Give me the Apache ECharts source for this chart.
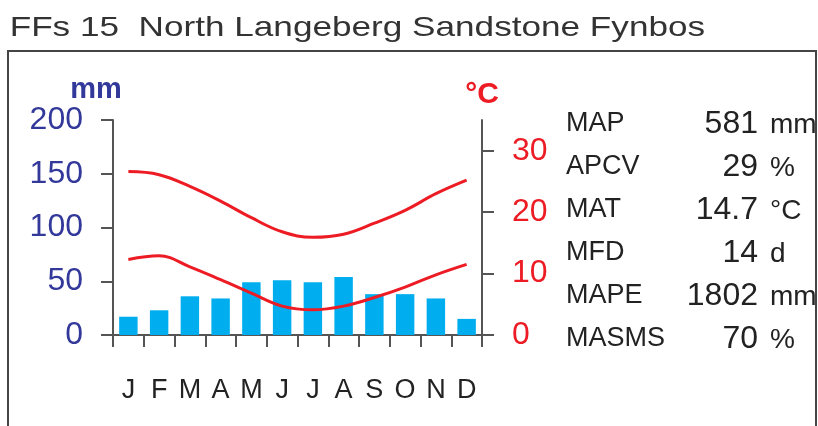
<!DOCTYPE html>
<html>
<head>
<meta charset="utf-8">
<script src="https://cdn.jsdelivr.net/npm/echarts@6/dist/echarts.min.js"></script>
<style>
  html, body { margin: 0; padding: 0; background: #fff; }
  #chart { width: 818px; height: 426px; }
</style>
</head>
<body>
<div id="chart"></div>
<script>
// climate diagram data
var months = ['J', 'F', 'M', 'A', 'M', 'J', 'J', 'A', 'S', 'O', 'N', 'D']
var rain = [17, 23, 36, 34, 49, 51, 49, 54, 38, 38, 34, 15]
var tMax = [26.6, 26.1, 24.2, 21.8, 19.1, 16.8, 15.9, 16.4, 18.2, 20.3, 23.0, 25.2]
var tMin = [12.3, 12.9, 11.1, 9.0, 6.8, 4.7, 4.1, 4.7, 6.1, 7.8, 9.8, 11.5]
var rainTicks = [0, 50, 100, 150, 200]
var tempTicks = [0, 10, 20, 30]
var statNames = ['MAP', 'APCV', 'MAT', 'MFD', 'MAPE', 'MASMS']
var statValues = ['581', '29', '14.7', '14', '1802', '70']
var statUnits = ['mm', '%', '°C', 'd', 'mm', '%']
var title = 'FFs 15  North Langeberg Sandstone Fynbos'

var blue = '#33399a'
var red = '#ed1c24'
var axisGray = '#555'
var font = 'Liberation Sans, Arial, sans-serif'
var narrow = 'Liberation Sans Narrow, Arial Narrow, sans-serif'

var chart = echarts.init(document.getElementById('chart'))

var graphics = [
  {
    type: 'text', x: 13, y: 28, scaleX: 1.255, originX: 13, originY: 28,
    style: { text: title, font: '28px ' + font, fill: '#333', verticalAlign: 'middle' }
  },
  {
    type: 'rect', shape: { x: 8, y: 51, width: 808, height: 420 },
    style: { fill: 'none', stroke: '#444', lineWidth: 2 }
  }
]
var rowY = [124, 167, 210, 253, 296, 339]
statNames.forEach(function (n, i) {
  graphics.push({
    type: 'text', x: 566, y: rowY[i],
    style: { text: n, font: '27px ' + font, fill: '#222', verticalAlign: 'middle', align: 'left' }
  })
  graphics.push({
    type: 'text', x: 758, y: rowY[i],
    style: { text: statValues[i], font: '32px ' + font, fill: '#222', verticalAlign: 'middle', align: 'right' }
  })
  graphics.push({
    type: 'text', x: 770, y: rowY[i] + 1,
    style: { text: statUnits[i], font: '28px ' + font, fill: '#222', verticalAlign: 'middle', align: 'left' }
  })
})

chart.setOption({
  animation: false,
  graphic: graphics,
  grid: {
    left: 113,
    right: 336,
    top: 120,
    bottom: 91
  },
  xAxis: {
    type: 'category',
    data: months,
    boundaryGap: true,
    axisLine: { lineStyle: { color: axisGray, width: 2 } },
    axisTick: { show: true, length: 12, lineStyle: { color: axisGray, width: 2 } },
    axisLabel: {
      margin: 42,
      color: '#222',
      fontFamily: narrow,
      fontSize: 27,
      interval: 0
    }
  },
  yAxis: [
    {
      type: 'value',
      min: 0,
      max: 200,
      interval: 50,
      name: 'mm',
      nameLocation: 'end',
      nameGap: 9,
      nameTextStyle: {
        color: blue,
        fontFamily: narrow,
        fontWeight: 'bold',
        fontSize: 29,
        align: 'center',
        padding: [0, 34, 0, 0]
      },
      axisLine: { show: true, lineStyle: { color: axisGray, width: 2 } },
      axisTick: { show: true, length: 12, lineStyle: { color: axisGray, width: 2 } },
      axisLabel: {
        margin: 30,
        color: blue,
        fontFamily: font,
        fontSize: 32,
        customValues: rainTicks
      },
      splitLine: { show: false }
    },
    {
      type: 'value',
      position: 'right',
      min: 0,
      max: 35,
      interval: 10,
      name: '°C',
      nameLocation: 'end',
      nameGap: 10,
      nameTextStyle: {
        color: red,
        fontFamily: narrow,
        fontWeight: 'bold',
        fontSize: 30,
        align: 'center'
      },
      axisLine: { show: true, lineStyle: { color: axisGray, width: 2 } },
      axisTick: { show: true, length: 12, lineStyle: { color: axisGray, width: 2 }, customValues: tempTicks },
      axisLabel: {
        margin: 30,
        color: red,
        fontFamily: font,
        fontSize: 32,
        customValues: tempTicks
      },
      splitLine: { show: false }
    }
  ],
  series: [
    {
      name: 'rain',
      type: 'bar',
      data: rain,
      barWidth: '60%',
      itemStyle: { color: '#00aeef' }
    },
    {
      name: 'tmax',
      type: 'line',
      yAxisIndex: 1,
      data: tMax,
      smooth: 0.4,
      symbol: 'none',
      lineStyle: { color: red, width: 3 }
    },
    {
      name: 'tmin',
      type: 'line',
      yAxisIndex: 1,
      data: tMin,
      smooth: 0.4,
      symbol: 'none',
      lineStyle: { color: red, width: 3 }
    }
  ]
})
</script>
</body>
</html>
